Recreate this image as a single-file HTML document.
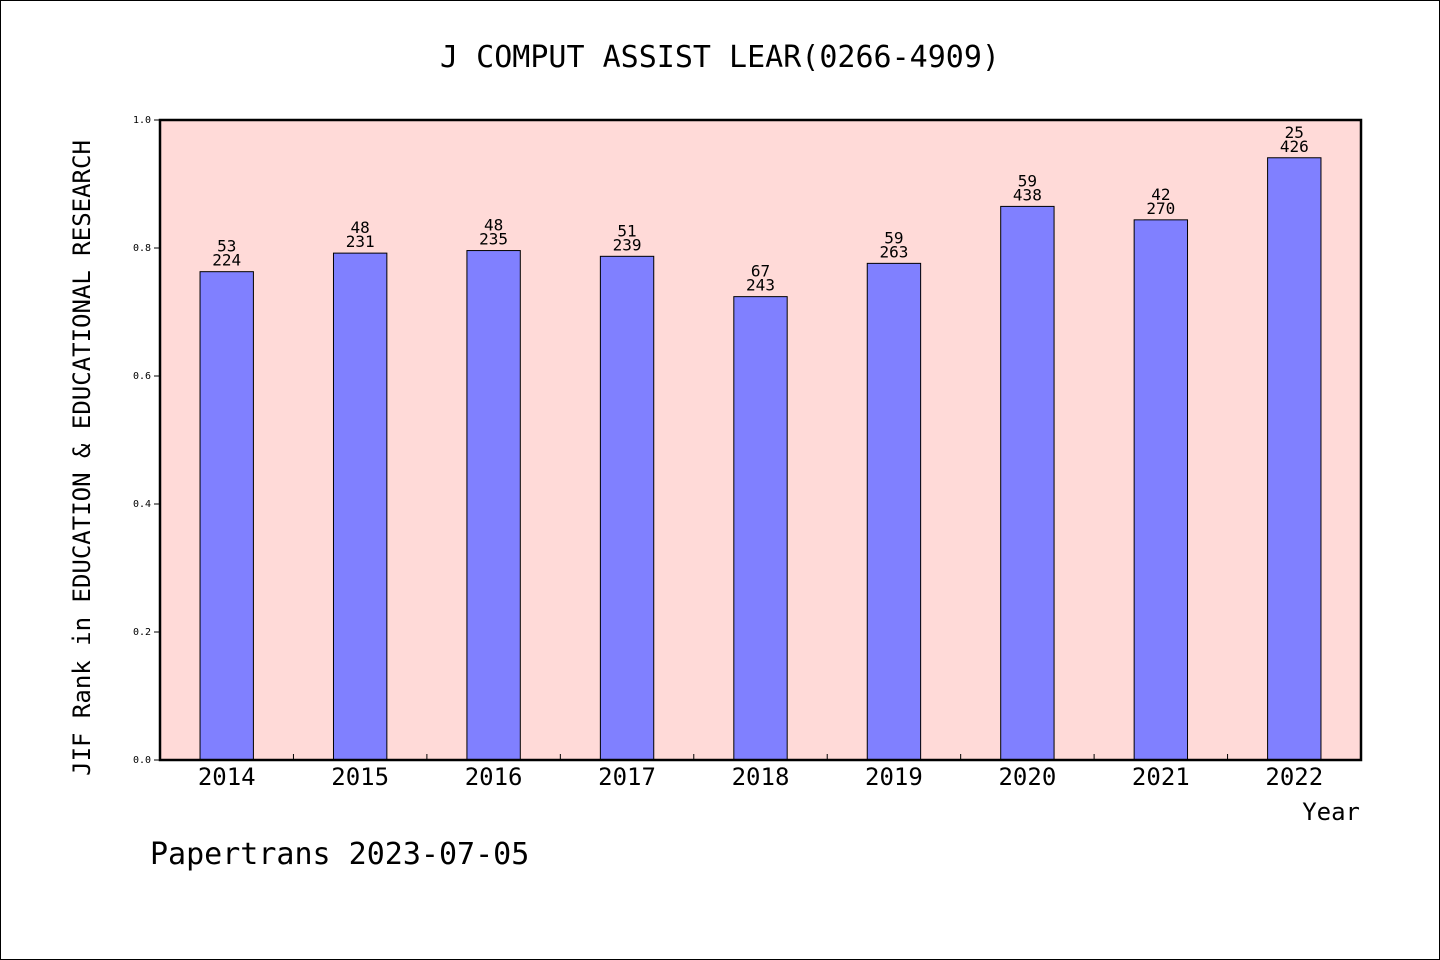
<!DOCTYPE html>
<html><head><meta charset="utf-8"><style>
html,body{margin:0;padding:0;background:#fff}
svg{display:block}
text{font-family:"WenQuanYi Zen Hei","DejaVu Sans Mono","Liberation Mono",monospace}
</style></head><body>
<svg id="chart" width="1440" height="960" xmlns="http://www.w3.org/2000/svg">
<rect x="0.5" y="0.5" width="1439" height="959" fill="#fff" stroke="#000"/>
<text x="720" y="67" font-size="30" text-anchor="middle">J COMPUT ASSIST LEAR(0266-4909)</text>
<rect x="160" y="120" width="1201" height="640" fill="#ffdad8"/>
<g id="bars"></g>
<rect x="160" y="120" width="1201" height="640" fill="none" stroke="#000" stroke-width="2.5"/>
<text transform="translate(90,458) rotate(-90)" font-size="24" text-anchor="middle">JIF Rank in EDUCATION &amp; EDUCATIONAL RESEARCH</text>
<text x="1360" y="820" font-size="24" text-anchor="end">Year</text>
<text x="150" y="864" font-size="30">Papertrans 2023-07-05</text>
</svg>
<script>
const categories=["2014","2015","2016","2017","2018","2019","2020","2021","2022"];
const values=[0.763,0.792,0.796,0.787,0.724,0.776,0.865,0.844,0.941];
const ranks=["53","48","48","51","67","59","59","42","25"];
const totals=["224","231","235","239","243","263","438","270","426"];
const yTicks=[0,0.2,0.4,0.6,0.8,1.0];
const yTickLabels=["0.0","0.2","0.4","0.6","0.8","1.0"];
const X0=160,X1=1361,Y0=760,Y1=120;
const slot=(X1-X0)/categories.length;
const xc=i=>X0+slot*(i+0.5);
const y=v=>Y0-(Y0-Y1)*v;
const NS="http://www.w3.org/2000/svg";
const g=document.getElementById('bars');
const svg=document.getElementById('chart');
function mk(t,a,p){const e=document.createElementNS(NS,t);for(const k in a)e.setAttribute(k,a[k]);(p||g).appendChild(e);return e;}
const bw=slot*0.4;
categories.forEach((c,i)=>{
  const r=mk('rect',{x:xc(i)-bw/2,y:y(values[i]),width:bw,height:Y0-y(values[i]),fill:'#8080ff',stroke:'#000','stroke-width':1});
  
  
  const t1=mk('text',{x:xc(i),y:y(values[i])-20,'font-size':16,'text-anchor':'middle'});t1.textContent=ranks[i];
  
  
  const t2=mk('text',{x:xc(i),y:y(values[i])-6,'font-size':16,'text-anchor':'middle'});t2.textContent=totals[i];
  
  
  const xl=mk('text',{x:xc(i),y:785,'font-size':24,'text-anchor':'middle'});xl.textContent=c;
  
  
  if(i>0){const tk=mk('line',{x1:X0+slot*i,x2:X0+slot*i,y1:Y0,y2:Y0-6,stroke:'#000'});
  
  }
});
yTicks.forEach((v,i)=>{
  const l=mk('line',{x1:X0-6,x2:X0,y1:y(v),y2:y(v),stroke:'#000'});
  
  
  const t=mk('text',{x:X0-9,y:y(v)+3,'font-size':10,'text-anchor':'end'});t.textContent=yTickLabels[i];
  
  
});
</script>
</body></html>
